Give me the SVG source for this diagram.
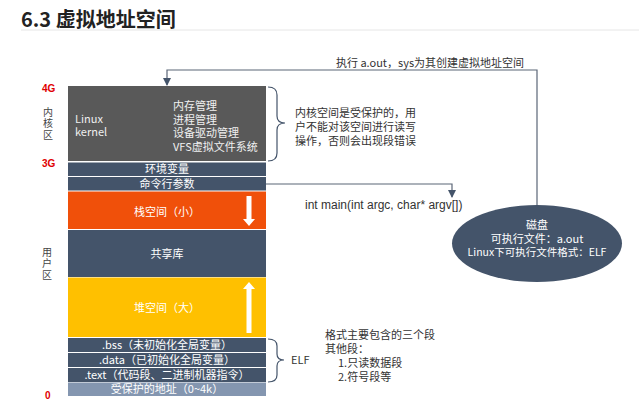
<svg xmlns="http://www.w3.org/2000/svg" width="639" height="408" viewBox="0 0 639 408">
<defs>
<style>
.t{font-family:"Noto Sans CJK SC","Liberation Sans",sans-serif;font-size:11px;fill:#333}
.w{font-family:"Noto Sans CJK SC","Liberation Sans",sans-serif;font-size:11px;fill:#fff;text-anchor:middle}
.k{font-family:"Noto Sans CJK SC","Liberation Sans",sans-serif;font-size:11px;fill:#f0f0f0}
.r{font-family:"Liberation Sans",sans-serif;font-size:10px;font-weight:bold;fill:#e00000}
.v{font-family:"Noto Sans CJK SC",sans-serif;font-size:10px;fill:#444;writing-mode:vertical-rl;letter-spacing:1.5px}
.bar{fill:#44546A}
.c{fill:none;stroke:#5b6677;stroke-width:1.2}
.br{fill:none;stroke:#44546A;stroke-width:1.2}
</style>
<marker id="ah2" markerWidth="8" markerHeight="8" refX="7" refY="4" orient="auto" markerUnits="userSpaceOnUse" viewBox="0 0 8 8">
<path d="M0,0 L8,4 L0,8 z" fill="#44546A"/>
</marker>
</defs>
<rect width="639" height="408" fill="#fff"/>
<g id="title">
<text x="21" y="27" style="font-family:'Noto Sans CJK SC',sans-serif;font-size:20px;font-weight:bold;fill:#222">6.3 虚拟地址空间</text>
<line x1="21" y1="30" x2="639" y2="30" stroke="#e6e6e6" stroke-width="1"/>
</g>
<g id="axis-labels">
<text class="r" x="42" y="92">4G</text>
<text class="r" x="42" y="167">3G</text>
<text class="r" x="45" y="399">0</text>
<text class="v" x="48" y="107">内核区</text>
<text class="v" x="47" y="247">用户区</text>
</g>
<g id="kernel">
<rect x="68" y="86" width="198" height="75" fill="#595959"/>
<text class="k" x="75" y="123">Linux<tspan x="75" y="136">kernel</tspan></text>
<text class="k" x="173" y="110">内存管理<tspan x="173" y="123.5">进程管理</tspan><tspan x="173" y="137">设备驱动管理</tspan><tspan x="173" y="150.5">VFS虚拟文件系统</tspan></text>
</g>
<g id="env">
<rect class="bar" x="68" y="162.5" width="198" height="13.5"/>
<text class="w" x="167" y="173">环境变量</text>
</g>
<g id="args">
<rect class="bar" x="68" y="177" width="198" height="13.5"/>
<text class="w" x="167" y="187.5">命令行参数</text>
</g>
<g id="stack">
<rect x="68" y="191.5" width="198" height="37.5" fill="#F0500A"/>
<text class="w" x="167" y="216">栈空间（小）</text>
<path d="M246.5,196 H251.5 V219 H255 L249,226 L243,219 H246.5 Z" fill="#fff"/>
</g>
<g id="shared">
<rect class="bar" x="68" y="230" width="198" height="47"/>
<text class="w" x="167" y="258">共享库</text>
</g>
<g id="heap">
<rect x="68" y="277.5" width="198" height="59.5" fill="#FFC000"/>
<text class="w" x="167" y="312">堆空间（大）</text>
<path d="M249,282 L255,289 H251.5 V333 H246.5 V289 H243 Z" fill="#fff"/>
</g>
<g id="bss">
<rect class="bar" x="68" y="338" width="198" height="14"/>
<text class="w" x="167" y="349">.bss（未初始化全局变量）</text>
</g>
<g id="data">
<rect class="bar" x="68" y="353" width="198" height="14"/>
<text class="w" x="167" y="364">.data（已初始化全局变量）</text>
</g>
<g id="text-seg">
<rect class="bar" x="68" y="368" width="198" height="14"/>
<text class="w" x="167" y="379">.text（代码段、二进制机器指令）</text>
</g>
<g id="protected">
<rect x="68" y="382.5" width="198" height="13.5" fill="#8496B0"/>
<text class="w" x="167" y="393">受保护的地址（0~4k）</text>
</g>
<g id="kernel-note">
<path class="br" d="M268,87 Q277,87 277,95 V116 Q277,123 285,123 Q277,123 277,130 V153 Q277,161 268,161"/>
<text class="t" x="295" y="117">内核空间是受保护的，用<tspan x="295" y="131">户不能对该空间进行读写</tspan><tspan x="295" y="145">操作，否则会出现段错误</tspan></text>
</g>
<g id="elf-note">
<path class="br" d="M268,339 Q277,339 277,346 V354 Q277,360 284,360 Q277,360 277,366 V375 Q277,382 268,382"/>
<text class="t" x="291" y="364">ELF</text>
<text class="t" x="325" y="339">格式主要包含的三个段<tspan x="325" y="353">其他段：</tspan><tspan x="338" y="367">1.只读数据段</tspan><tspan x="338" y="381">2.符号段等</tspan></text>
</g>
<g id="disk">
<ellipse cx="537" cy="243.5" rx="85" ry="38.5" fill="#44546A"/>
<text class="w" x="537" y="229">磁盘<tspan x="537" y="243">可执行文件：a.out</tspan><tspan x="537" y="256" style="font-size:10.5px">Linux下可执行文件格式：ELF</tspan></text>
</g>
<g id="connectors">
<path class="c" d="M537,205 V70 H167 V85" marker-end="url(#ah2)"/>
<path class="c" d="M266,184 H452 V197" marker-end="url(#ah2)"/>
<text class="t" x="430" y="67" text-anchor="middle">执行 a.out，sys为其创建虚拟地址空间</text>
<text x="305" y="209" style="font-family:'Liberation Sans',sans-serif;font-size:12px;fill:#333">int main(int argc, char* argv[])</text>
</g>
</svg>
